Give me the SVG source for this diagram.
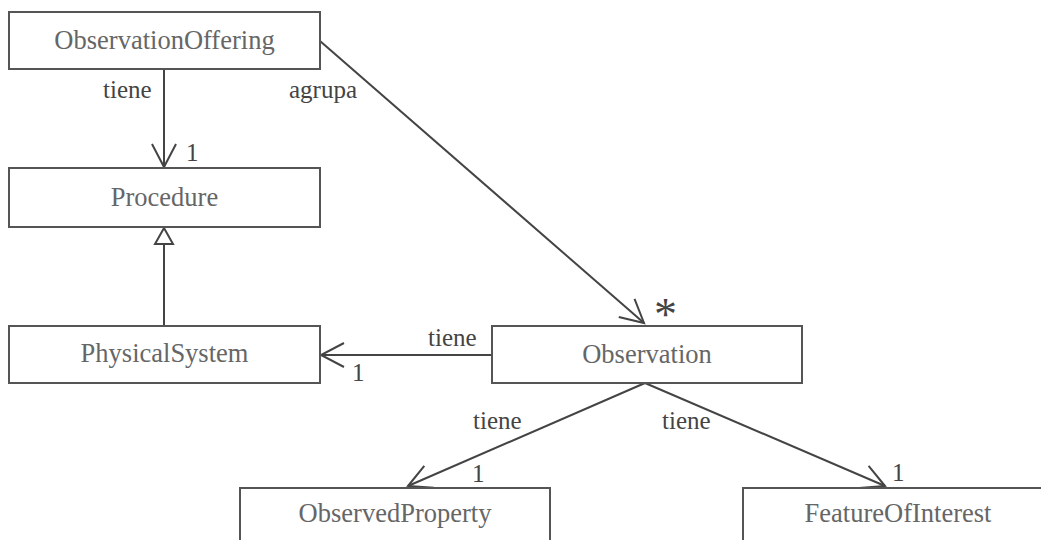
<svg xmlns="http://www.w3.org/2000/svg" width="1041" height="540" viewBox="0 0 1041 540">
  <style>
    .box { fill: #ffffff; stroke: #555555; stroke-width: 2; }
    .name { font-family: "Liberation Serif", "Times New Roman", serif; font-size: 26.5px; fill: #666666; text-anchor: middle; }
    .lbl { font-family: "Liberation Serif", "Times New Roman", serif; font-size: 25px; fill: #444444; }
    .edge { fill: none; stroke: #444444; stroke-width: 2; }
  </style>
  <defs>
    <marker id="open" markerUnits="userSpaceOnUse" markerWidth="40" markerHeight="40" viewBox="-30 -20 40 40" refX="0" refY="0" orient="auto">
      <path d="M -23 -12 L 0 0 L -23 12" fill="none" stroke="#444444" stroke-width="2"/>
    </marker>
    <marker id="gen" markerUnits="userSpaceOnUse" markerWidth="40" markerHeight="40" viewBox="-30 -20 40 40" refX="0" refY="0" orient="auto">
      <path d="M -16 -9 L 0 0 L -16 9 Z" fill="#ffffff" stroke="#444444" stroke-width="2"/>
    </marker>
  </defs>

  <rect width="1041" height="540" fill="#ffffff"/>

  <g id="connectors">
    <line class="edge" x1="164" y1="69" x2="164" y2="167" marker-end="url(#open)"/>
    <line class="edge" x1="320" y1="41" x2="644" y2="323" marker-end="url(#open)"/>
    <line class="edge" x1="164" y1="326" x2="164" y2="228" marker-end="url(#gen)"/>
    <line class="edge" x1="492" y1="355" x2="321" y2="355" marker-end="url(#open)"/>
    <line class="edge" x1="645" y1="383" x2="408" y2="486" marker-end="url(#open)"/>
    <line class="edge" x1="645" y1="383" x2="885" y2="486" marker-end="url(#open)"/>

    <text class="lbl" x="103" y="98">tiene</text>
    <text class="lbl" x="186" y="161">1</text>
    <text class="lbl" x="289" y="98">agrupa</text>
    <text class="lbl" x="654" y="330" style="font-size:46px">*</text>
    <text class="lbl" x="428" y="346">tiene</text>
    <text class="lbl" x="352" y="381">1</text>
    <text class="lbl" x="473" y="429">tiene</text>
    <text class="lbl" x="662" y="429">tiene</text>
    <text class="lbl" x="472" y="482">1</text>
    <text class="lbl" x="892" y="481">1</text>
  </g>

  <g id="ObservationOffering">
    <rect class="box" x="9" y="12" width="311" height="57"/>
    <text class="name" x="164.5" y="49">ObservationOffering</text>
  </g>
  <g id="Procedure">
    <rect class="box" x="9" y="168" width="311" height="59"/>
    <text class="name" x="164.5" y="206">Procedure</text>
  </g>
  <g id="PhysicalSystem">
    <rect class="box" x="9" y="326" width="311" height="57"/>
    <text class="name" x="164.5" y="362">PhysicalSystem</text>
  </g>
  <g id="Observation">
    <rect class="box" x="492" y="326" width="310" height="57"/>
    <text class="name" x="647" y="363">Observation</text>
  </g>
  <g id="ObservedProperty">
    <rect class="box" x="240" y="488" width="310" height="60"/>
    <text class="name" x="395" y="522">ObservedProperty</text>
  </g>
  <g id="FeatureOfInterest">
    <rect class="box" x="743" y="488" width="310" height="60"/>
    <text class="name" x="898" y="522">FeatureOfInterest</text>
  </g>
</svg>
